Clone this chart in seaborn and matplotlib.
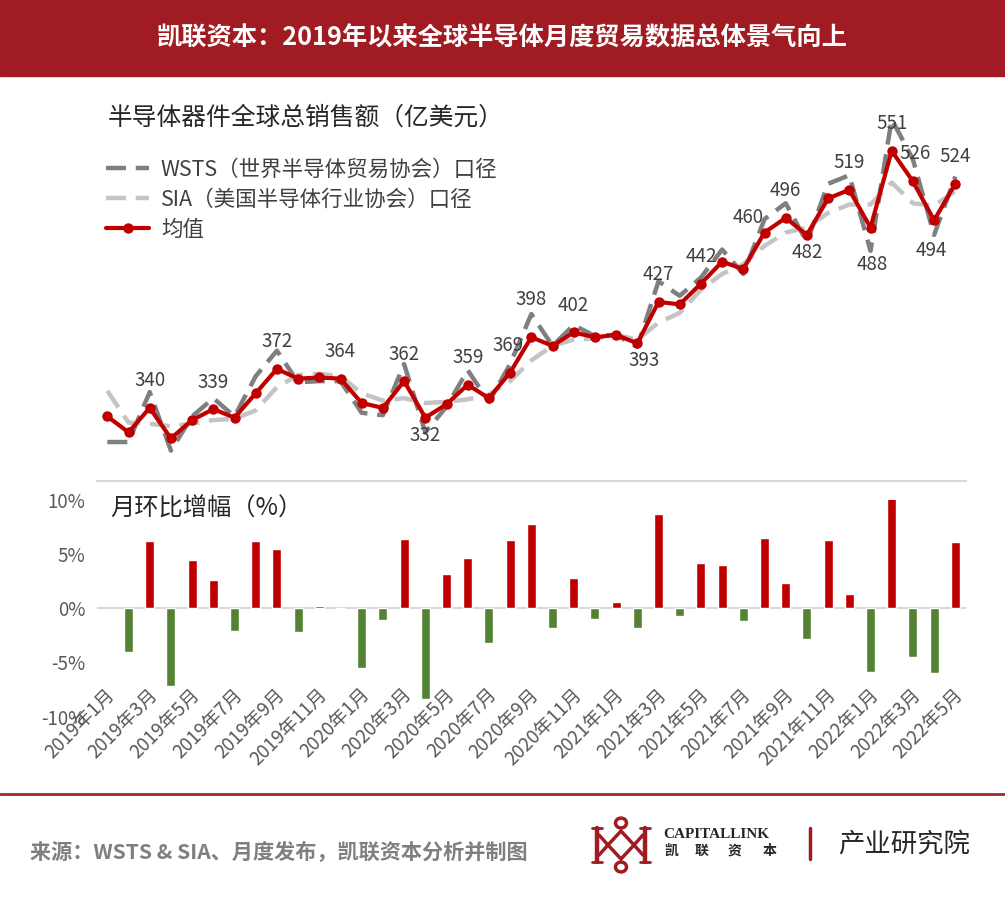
import numpy as np
import pandas as pd
import matplotlib
matplotlib.use("Agg")
import matplotlib.pyplot as plt
import matplotlib.transforms as mtrans
from matplotlib.lines import Line2D
from matplotlib.patches import Rectangle, Circle, Polygon
import seaborn as sns

# months 2019-01 .. 2022-05
months = [f"{y}年{m}月" for y in (2019, 2020, 2021, 2022) for m in range(1, 13)][:41]

# global semiconductor sales, 亿美元
wsts = [312, 312, 353, 305, 333, 348, 333, 366, 387, 361, 362, 362,
        336, 334, 376, 320, 341, 371, 345, 376, 417, 391, 408, 399,
        400, 390, 444, 432, 447, 470, 450, 495, 508, 476, 524, 531,
        469, 577, 544, 482, 530]
sia = [354, 328, 327, 325, 327, 330, 331, 338, 357, 367, 368, 366,
       352, 346, 348, 344, 345, 347, 351, 362, 379, 391, 396, 397,
       400, 396, 410, 418, 437, 450, 458, 473, 484, 488, 500, 507,
       507, 525, 508, 506, 518]
avg = [333, 320, 340, 315, 330, 339, 332, 352, 372, 364, 365, 364,
       344, 340, 362, 332, 343, 359, 348, 369, 398, 391, 402, 398,
       400, 393, 427, 425, 442, 460, 454, 484, 496, 482, 512, 519,
       488, 551, 526, 494, 524]

# month-on-month change of the average, %
mom = [np.nan, -4.0, 6.2, -7.2, 4.5, 2.6, -2.1, 6.2, 5.5, -2.2, 0.2, 0.0,
       -5.5, -1.1, 6.4, -8.4, 3.2, 4.6, -3.2, 6.3, 7.8, -1.8, 2.8, -1.0,
       0.6, -1.8, 8.7, -0.7, 4.2, 4.0, -1.2, 6.5, 2.3, -2.8, 6.3, 1.3,
       -5.9, 12.9, -4.5, -6.0, 6.1]

label_above = [2, 5, 8, 11, 14, 17, 19, 20, 22, 26, 28, 29, 32, 35, 37, 38, 40]
label_below = [15, 25, 33, 36, 39]

RED = "#C00000"
GREEN = "#548235"
BRAND = "#A11C22"
W, H = 1005, 901


def fx(px):
    return px / W


def fy(py):
    return 1 - py / H


sns.set_style("white")
plt.rcParams["font.family"] = ["Noto Sans CJK SC", "DejaVu Sans"]

fig = plt.figure(figsize=(W / 100, H / 100), dpi=100)

# header band
fig.add_artist(Rectangle((0, fy(76)), 1, 76 / H, transform=fig.transFigure,
                         color=BRAND, zorder=0))
fig.text(0.5, fy(38), "凯联资本：2019年以来全球半导体月度贸易数据总体景气向上",
         color="white", fontsize=18.2, weight="bold", ha="center", va="center")

# ---- line chart ----
x_left = 96.7
cat_w = 21.2
ax1 = fig.add_axes([fx(x_left), fy(481), 41 * cat_w / W, 389.8 / H])
df = pd.DataFrame({"i": np.arange(41), "wsts": wsts, "sia": sia, "avg": avg})

sns.lineplot(data=df, x="i", y="wsts", ax=ax1, color="#7f7f7f", linewidth=3.2)
ax1.lines[-1].set_dashes([4.5, 2.2])
ax1.lines[-1].set_dash_capstyle("butt")
sns.lineplot(data=df, x="i", y="sia", ax=ax1, color="#c4c4c4", linewidth=3.2)
ax1.lines[-1].set_dashes([4.5, 2.2])
ax1.lines[-1].set_dash_capstyle("butt")
sns.lineplot(data=df, x="i", y="avg", ax=ax1, color=RED, linewidth=3,
             marker="o", markersize=7.5, markeredgewidth=0)

ax1.set_xlim(-0.5, 40.5)
ax1.set_ylim(280, 600)
ax1.set_xlabel("")
ax1.set_ylabel("")
ax1.set_yticks([])
ax1.set_xticks(np.arange(-0.5, 40, 2))
ax1.set_xticklabels([])
ax1.tick_params(axis="x", direction="out", length=4.5, width=1.2, color="#d9d9d9")
for s in ["top", "left", "right"]:
    ax1.spines[s].set_visible(False)
ax1.spines["bottom"].set_color("#d9d9d9")
ax1.spines["bottom"].set_linewidth(1.5)
ax1.patch.set_alpha(0)

offsets = {20: (0, 38), 29: (26, 44), 36: (2, -37), 39: (-3, -30),
           25: (7, -17), 38: (2, 28), 19: (-2, 27)}
for i in label_above + label_below:
    d = offsets.get(i, (0, 27) if i in label_above else (0, -18))
    ax1.annotate(f"{avg[i]}", (i, avg[i]), xytext=d, textcoords="offset pixels",
                 ha="center", va="center", fontsize=13.5, color="#404040")

handles = [
    Line2D([], [], color="#7f7f7f", lw=3.2, dashes=[4.5, 2.2], dash_capstyle="butt"),
    Line2D([], [], color="#c4c4c4", lw=3.2, dashes=[4.5, 2.2], dash_capstyle="butt"),
    Line2D([], [], color=RED, lw=3, marker="o", markersize=7.5, markeredgewidth=0),
]
ax1.legend(handles, ["WSTS（世界半导体贸易协会）口径", "SIA（美国半导体行业协会）口径", "均值"],
           loc="upper left", bbox_to_anchor=(fx(106), fy(159)),
           bbox_transform=fig.transFigure, frameon=False, fontsize=15.5,
           handlelength=2.0, handletextpad=0.55, labelspacing=0.36,
           borderpad=0, borderaxespad=0, labelcolor="#404040")

fig.text(fx(108), fy(118), "半导体器件全球总销售额（亿美元）", fontsize=17.8,
         color="#262626", va="center")

# ---- bar chart ----
ax2 = fig.add_axes([fx(x_left), fy(716.6), 41 * cat_w / W, 216.6 / H])
df_bar = pd.DataFrame({"month": months, "mom": mom})
df_bar["sign"] = np.where(df_bar["mom"] < 0, "neg", "pos")
sns.barplot(data=df_bar, x="month", y="mom", hue="sign", order=months,
            palette={"pos": RED, "neg": GREEN}, dodge=False, width=0.42,
            errorbar=None, saturation=1, legend=False, ax=ax2)
ax2.axhline(0, color="#d9d9d9", lw=1.5, zorder=0)
ax2.set_xlim(-0.5, 40.5)
ax2.set_ylim(-10, 10)
ax2.set_xlabel("")
ax2.set_ylabel("")
ax2.set_yticks([-10, -5, 0, 5, 10])
ax2.set_yticklabels(["-10%", "-5%", "0%", "5%", "10%"])
ax2.set_xticks(np.arange(0, 41, 2))
ax2.set_xticklabels(months[::2], rotation=45, ha="right", va="center",
                    rotation_mode="anchor")
ax2.tick_params(axis="both", length=0, labelsize=13.5, labelcolor="#595959")
ax2.tick_params(axis="y", pad=8)
ax2.tick_params(axis="x", pad=0)
shift = mtrans.ScaledTranslation(0.05, 0.25, fig.dpi_scale_trans)
for lab in ax2.get_xticklabels():
    lab.set_transform(lab.get_transform() + shift)
sns.despine(ax=ax2, left=True, bottom=True)
ax2.patch.set_alpha(0)

fig.text(fx(110), fy(509), "月环比增幅（%）", fontsize=17.5, color="#262626", va="center")

# ---- footer ----
fig.add_artist(Line2D([0, 1], [fy(794), fy(794)], transform=fig.transFigure,
                      color="#9E2A2B", lw=2))
fig.text(fx(30), fy(852), "来源：WSTS & SIA、月度发布，凯联资本分析并制图",
         fontsize=15.2, weight="bold", color="#7f7f7f", va="center")

# logo (simplified)
lw_logo = 3.2
for xb in (597, 645):
    fig.add_artist(Line2D([fx(xb), fx(xb)], [fy(828), fy(862)], transform=fig.transFigure,
                          color=BRAND, lw=lw_logo))
    fig.add_artist(Line2D([fx(xb - 5), fx(xb + 5)], [fy(828), fy(828)],
                          transform=fig.transFigure, color=BRAND, lw=2))
    fig.add_artist(Line2D([fx(xb - 5), fx(xb + 5)], [fy(862), fy(862)],
                          transform=fig.transFigure, color=BRAND, lw=2))
fig.add_artist(Polygon([(fx(621), fy(831)), (fx(634), fy(845)), (fx(621), fy(859)),
                        (fx(608), fy(845))], closed=True, fill=False,
                       edgecolor=BRAND, lw=2.5, transform=fig.transFigure))
for xa, xb in ((599, 608), (643, 634)):
    fig.add_artist(Line2D([fx(xa), fx(xb)], [fy(835), fy(845)], transform=fig.transFigure,
                          color=BRAND, lw=2.5))
    fig.add_artist(Line2D([fx(xa), fx(xb)], [fy(855), fy(845)], transform=fig.transFigure,
                          color=BRAND, lw=2.5))
for yc in (823, 867):
    fig.add_artist(Circle((fx(621), fy(yc)), 5.5 / W, transform=fig.transFigure,
                          fill=False, edgecolor=BRAND, lw=2.5))

fig.text(fx(663), fy(835), "CAPITALLINK", fontsize=11, weight="bold",
         family="Liberation Serif", color="#262626", va="center")
for ch, xc in zip("凯联资本", (671, 702, 734, 770)):
    fig.text(fx(xc), fy(851), ch, fontsize=10, weight="bold", color="#262626",
             ha="center", va="center")
fig.add_artist(Line2D([fx(810), fx(810)], [fy(828), fy(859)], transform=fig.transFigure,
                      color=BRAND, lw=2.5))
fig.text(fx(838), fy(845), "产业研究院", fontsize=19, color="#262626", va="center")

fig.savefig("out.png", dpi=100)
